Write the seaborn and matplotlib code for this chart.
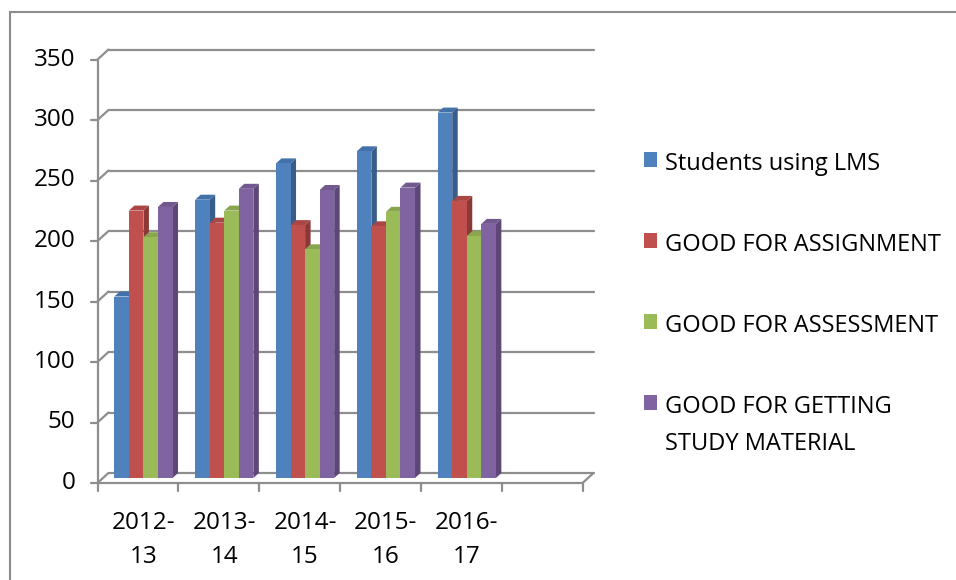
import numpy as np
import pandas as pd
import matplotlib
matplotlib.use("Agg")
import matplotlib.pyplot as plt
from matplotlib.patches import Polygon, Rectangle, Patch
import seaborn as sns

# data
years = ["2012-\n13", "2013-\n14", "2014-\n15", "2015-\n16", "2016-\n17"]
series = ["Students using LMS", "GOOD FOR ASSIGNMENT", "GOOD FOR ASSESSMENT",
          "GOOD FOR GETTING\nSTUDY MATERIAL"]
lms = [150, 230, 260, 270, 302]
assignment = [221, 211, 209, 208, 229]
assessment = [199, 221, 189, 220, 200]
material = [224, 239, 238, 240, 210]
yticks = [0, 50, 100, 150, 200, 250, 300, 350]

colors = ["#4F81BD", "#C0504D", "#9BBB59", "#8064A2"]
sides = ["#385D8A", "#8C3836", "#71893F", "#5C4776"]
tops = ["#4372AA", "#AA4643", "#89A54E", "#71588F"]
grid_c = "#8E8E8E"

rows = []
for s, vals in zip(series, [lms, assignment, assessment, material]):
    for y, v in zip(years, vals):
        rows.append({"year": y, "series": s, "value": v})
df = pd.DataFrame(rows)

sns.set_style("white")
plt.rcParams["font.family"] = ["Open Sans", "DejaVu Sans"]
plt.rcParams["text.color"] = "black"
plt.rcParams["xtick.color"] = "black"
FS = 17.5
LFS = 17

fig = plt.figure(figsize=(9.56, 5.8), dpi=100)
ax = fig.add_axes([103 / 956, 102 / 580, 485 / 956, 423.5 / 580])

sns.barplot(data=df, x="year", y="value", hue="series", order=years,
            hue_order=series, palette=colors, saturation=1, width=0.72,
            edgecolor="none", linewidth=0, legend=False, ax=ax)
ax.set_xlim(-0.5, 5.5)
ax.set_ylim(0, 350)
for sp in ax.spines.values():
    sp.set_visible(False)
ax.set_xlabel("")
ax.set_ylabel("")
ax.set_yticks([])
ax.set_xticks(range(len(years)), years)
ax.tick_params(axis="x", length=0, pad=24, labelsize=FS, labelcolor="black")
for t in ax.get_xticklabels():
    t.set_linespacing(1.55)

# pixel -> data conversions for the fake 3d depth
px_x = 6 / ax.bbox.width
px_y = 350 / ax.bbox.height
dx = 5.5 * px_x
dy = 5 * px_y

# bar sides and caps
for h, cont in enumerate(ax.containers):
    for bar in cont:
        bar.set_zorder(10 + 2 * h)
        x0 = bar.get_x()
        w = bar.get_width()
        ht = bar.get_height()
        side = Polygon([(x0 + w, 0), (x0 + w + dx, dy), (x0 + w + dx, ht + dy), (x0 + w, ht)],
                       closed=True, facecolor=sides[h], edgecolor="none", zorder=9 + 2 * h)
        top = Polygon([(x0, ht), (x0 + dx, ht + dy), (x0 + w + dx, ht + dy), (x0 + w, ht)],
                      closed=True, facecolor=tops[h], edgecolor="none", zorder=9 + 2 * h)
        ax.add_patch(side)
        ax.add_patch(top)

# back wall gridlines + diagonal joins to front axis
for v in yticks:
    ax.plot([-0.5 + dx, 5.5 + dx], [v + dy, v + dy], color=grid_c, lw=1.6, zorder=1, clip_on=False)
    ax.plot([-0.5 - dx, -0.5 + dx], [v - dy, v + dy], color=grid_c, lw=1.6, zorder=1, clip_on=False)
    ax.plot([-0.5 - dx - 7 * px_x, -0.5 - dx], [v - dy, v - dy], color=grid_c, lw=1.6, clip_on=False)
    ax.text(-0.5 - dx - 22 * px_x, v - dy, str(v), ha="right", va="center", fontsize=FS)

# front axis and floor
ax.plot([-0.5 - dx, -0.5 - dx], [-dy, 350 - dy], color=grid_c, lw=1.6, clip_on=False)
ax.plot([-0.5 - dx, 5.5 - dx], [-dy, -dy], color=grid_c, lw=1.6, clip_on=False)
ax.plot([5.5 - dx, 5.5 + dx], [-dy, dy], color=grid_c, lw=1.6, clip_on=False)
for k in range(7):
    xk = k - 0.5 - dx
    ax.plot([xk, xk], [-dy, -dy - 8 * px_y], color=grid_c, lw=1.6, clip_on=False)

# legend
handles = [Patch(facecolor=c, edgecolor="none") for c in colors]
leg = fig.legend(handles, series, loc="upper left",
                 bbox_to_anchor=(644 / 956, 1 - 152 / 580), frameon=False,
                 fontsize=LFS, handlelength=0.57, handleheight=0.57,
                 handletextpad=0.3, labelspacing=2.42, borderpad=0,
                 borderaxespad=0)
leg.get_texts()[3].set_linespacing(1.7)
for hp in leg._legend_handle_box.get_children()[0].get_children():
    hp.align = "top"

# chart frame
fig.patches.append(Rectangle((10 / 956, -0.01), 1, 1 - 12 / 580 + 0.01,
                             transform=fig.transFigure, fill=False,
                             edgecolor="#8C8C8C", lw=1.5))

plt.savefig("out.png", dpi=100)
